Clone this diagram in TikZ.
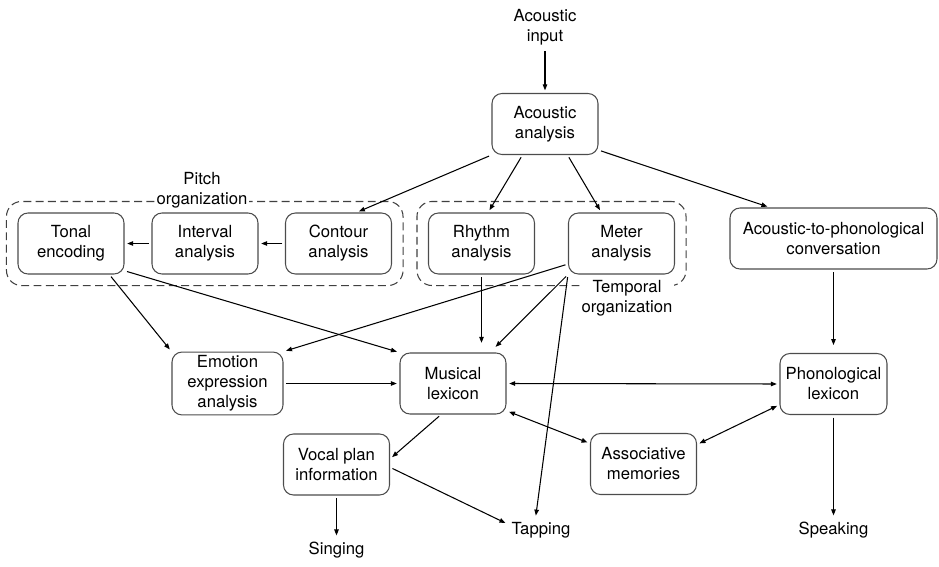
\documentclass[tikz,border=0pt]{standalone}
\usepackage{fontspec}
\setmainfont{TeX Gyre Heros}
\usetikzlibrary{arrows.meta,positioning,fit,calc}

\begin{document}
\begin{tikzpicture}[font=\fontsize{9.5}{11.4}\selectfont, >={Triangle[length=1.2mm,width=0.9mm]},
  block/.style={draw=black!70, rounded corners=2mm, line width=0.6pt, align=center,
    inner sep=2pt, minimum width=2.12cm, minimum height=1.22cm},
  group/.style={draw=black!75, dash pattern=on 4.5pt off 2.5pt, rounded corners=3mm,
    inner sep=0.22cm, line width=0.6pt},
  grouplabel/.style={fill=white, align=center, inner sep=1pt},
  plain/.style={align=center, inner sep=2pt},
  flow/.style={line width=0.6pt, shorten <=1.5pt, shorten >=1.5pt}]
  \useasboundingbox (0,0) rectangle (18.78,-11.34);

  \node[plain] (input) at (10.90,-0.54) {Acoustic\\input};
  \node[block] (acan) at (10.90,-2.48) {Acoustic\\analysis};

  % pitch and temporal stages
  \node[block] (tonal) at (1.42,-4.87) {Tonal\\encoding};
  \node[block] (interval) at (4.10,-4.87) {Interval\\analysis};
  \node[block] (contour) at (6.77,-4.87) {Contour\\analysis};
  \node[block] (rhythm) at (9.63,-4.87) {Rhythm\\analysis};
  \node[block] (meter) at (12.43,-4.87) {Meter\\analysis};
  \node[block, minimum width=4.14cm] (atop) at (16.67,-4.77) {Acoustic-to-phonological\\conversation};

  \node[group, fit=(tonal)(contour)] (pitchbox) {};
  \node[group, fit=(rhythm)(meter)] (tempbox) {};
  \node[grouplabel] (pitchlab) at (4.04,-3.80) {Pitch\\organization};
  \node[grouplabel] (templab) at (12.54,-5.96) {Temporal\\organization};

  \node[block, minimum width=2.22cm] (emotion) at (4.55,-7.67) {Emotion\\expression\\analysis};
  \node[block] (lexicon) at (9.06,-7.67) {Musical\\lexicon};
  \node[block, minimum width=2.14cm] (phono) at (16.67,-7.68) {Phonological\\lexicon};
  \node[block] (vocal) at (6.73,-9.29) {Vocal plan\\information};
  \node[block] (assoc) at (12.87,-9.28) {Associative\\memories};

  \node[plain] (singing) at (6.73,-11.00) {Singing};
  \node[plain] (tapping) at (10.82,-10.60) {Tapping};
  \node[plain] (speaking) at (16.67,-10.60) {Speaking};

  % arrows
  \draw[flow,->] (input.south) -- (acan.north);
  \draw[flow,->] (acan.south west) -- (contour.60);
  \draw[flow,->] (acan.234) -- (rhythm.78);
  \draw[flow,->] (acan.306) -- (meter.123);
  \draw[flow,->] (acan.334) -- (atop.154);
  \draw[flow,->] (contour.west) -- (interval.east);
  \draw[flow,->] (interval.west) -- (tonal.east);
  \draw[flow,->] (tonal.321) -- (emotion.north west);
  \draw[flow,->] (tonal.333) -- (lexicon.north west);
  \draw[flow,->] (meter.201) -- (emotion.north east);
  \draw[flow,->,shorten >=5.5pt] (rhythm.south) -- (rhythm.south |- lexicon.north);
  \draw[flow,->,shorten >=4.5pt] (meter.south west) -- (lexicon.40);
  \draw[flow,->] (meter.south west) -- (tapping.115);
  \draw[flow,->,shorten >=4.5pt] (atop.south) -- (phono.north);
  \draw[flow,->] (emotion.east) -- (lexicon.west);
  \draw[flow,<->] (lexicon.east) -- (phono.west);
  \draw[flow,<->] (lexicon.333) -- (assoc.159);
  \draw[flow,<->] (assoc.20) -- (phono.201);
  \draw[flow,->] (lexicon.249) -- (vocal.6);
  \draw[flow,->] (vocal.357) -- (tapping.170);
  \draw[flow,->] (vocal.south) -- (singing.north);
  \draw[flow,->] (phono.south) -- (speaking.north);
\end{tikzpicture}
\end{document}
